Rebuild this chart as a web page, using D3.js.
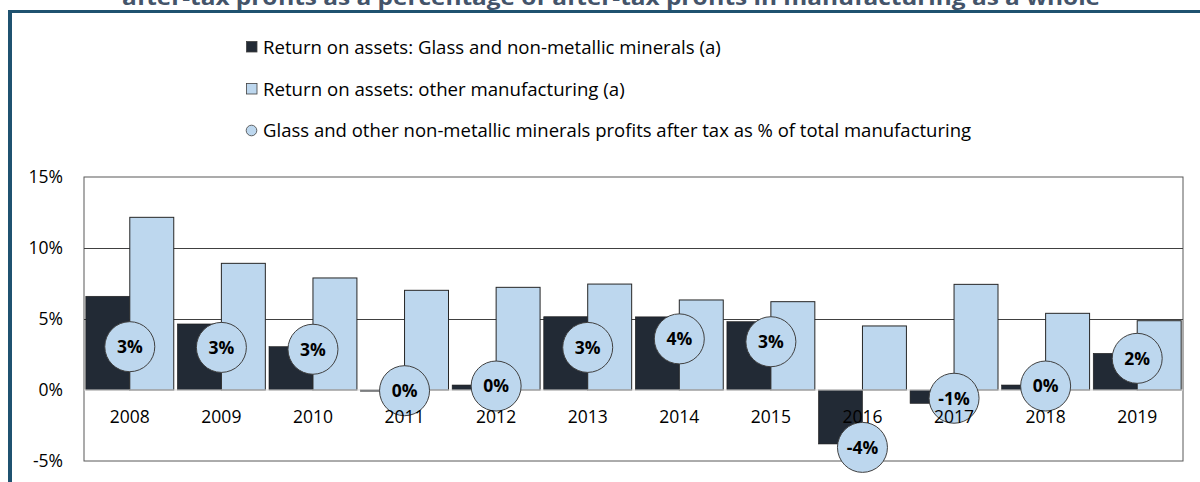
<!DOCTYPE html>
<html><head><meta charset="utf-8">
<script src="https://cdn.jsdelivr.net/npm/d3@7"></script>
<style>
html,body{margin:0;padding:0;background:#fff;}
text{font-family:"Open Sans",sans-serif;}
</style></head>
<body>
<svg id="chart" width="1200" height="482"></svg>
<script>
const years = ["2008","2009","2010","2011","2012","2013","2014","2015","2016","2017","2018","2019"];
const glassROA = [6.6, 4.65, 3.05, -0.08, 0.35, 5.16, 5.15, 4.81, -3.8, -0.94, 0.35, 2.58];
const otherROA = [12.16, 8.92, 7.89, 7.02, 7.23, 7.46, 6.34, 6.22, 4.51, 7.44, 5.40, 4.88];
const profitShare = [3.05, 3.0, 2.87, -0.05, 0.28, 3.0, 3.6, 3.4, -4.04, -0.58, 0.28, 2.23];
const yTicks = [15, 10, 5, 0, -5];
const seriesNames = [
  "Return on assets: Glass and non-metallic minerals (a)",
  "Return on assets: other manufacturing (a)",
  "Glass and other non-metallic minerals profits after tax as % of total manufacturing"
];
const titleText = "after-tax profits as a percentage of after-tax profits in manufacturing as a whole";

const darkC = "#222a35", lightC = "#bdd7ee";
const FONT = "'Open Sans',sans-serif";
const svg = d3.select("#chart");
const L = 84, R = 1183, T = 177, B = 461;

const x = d3.scaleBand().domain(years).range([L, R]).paddingInner(0.04).paddingOuter(0.02);
const y = d3.scaleLinear().domain([-5, 15]).range([B, T]);

// frame
svg.append("line").attr("x1", 8).attr("x2", 1200).attr("y1", 11.5).attr("y2", 11.5)
  .attr("stroke", "#1f5270").attr("stroke-width", 3);
svg.append("line").attr("x1", 10).attr("x2", 10).attr("y1", 10).attr("y2", 482)
  .attr("stroke", "#1f5270").attr("stroke-width", 4);

// title (cut off at top, as in the reference)
svg.append("text").attr("x", 611).attr("y", 5).attr("text-anchor", "middle")
  .attr("font-size", 22).attr("font-weight", "bold").attr("fill", "#44546a")
  .attr("textLength", 978).attr("lengthAdjust", "spacingAndGlyphs").text(titleText);

// legend
const legY = [47, 89, 131];
const lg = svg.append("g");
lg.append("rect").attr("x", 246.5).attr("y", legY[0] - 5.5).attr("width", 10.5).attr("height", 10.5)
  .attr("fill", darkC).attr("stroke", "#404040").attr("stroke-width", 0.8);
lg.append("rect").attr("x", 246.5).attr("y", legY[1] - 5.5).attr("width", 10.5).attr("height", 10.5)
  .attr("fill", lightC).attr("stroke", "#404040").attr("stroke-width", 0.8);
lg.append("circle").attr("cx", 251.5).attr("cy", legY[2] - 0.5).attr("r", 5.3)
  .attr("fill", lightC).attr("stroke", "#404040").attr("stroke-width", 0.8);
const legW = [458, 362, 709];
seriesNames.forEach((s, i) => {
  const t = lg.append("text").attr("x", 263).attr("y", legY[i]).attr("dy", "0.35em")
    .attr("font-size", 16).attr("fill", "#000").text(s);
  const w = t.node().getComputedTextLength();
  t.attr("font-size", 16 * legW[i] / w);
});

// plot area
svg.append("rect").attr("x", L).attr("y", T).attr("width", R - L).attr("height", B - T)
  .attr("fill", "#fff").attr("stroke", "#595959").attr("stroke-width", 1);

// gridlines
svg.append("g").selectAll("line").data([10, 5]).join("line")
  .attr("x1", L).attr("x2", R).attr("y1", d => Math.round(y(d)) + 0.5).attr("y2", d => Math.round(y(d)) + 0.5)
  .attr("stroke", "#404040").attr("stroke-width", 1);

// y axis labels
const yAxis = d3.axisLeft(y).tickValues(yTicks).tickSize(0).tickPadding(0).tickFormat(d => d + "%");
const ya = svg.append("g").attr("transform", `translate(${L - 21},0)`).call(yAxis);
ya.select(".domain").remove();
ya.selectAll("text").attr("font-size", 17.5).attr("fill", "#000").attr("font-family", FONT);

// bars
const bw = x.bandwidth() / 2;
svg.append("g").selectAll("rect").data(years).join("rect")
  .attr("x", d => x(d)).attr("width", bw)
  .attr("y", (d, i) => y(Math.max(0, glassROA[i])))
  .attr("height", (d, i) => Math.abs(y(glassROA[i]) - y(0)))
  .attr("fill", darkC).attr("stroke", "#1a1a1a").attr("stroke-width", 0.6);
svg.append("g").selectAll("rect").data(years).join("rect")
  .attr("x", d => x(d) + bw).attr("width", bw)
  .attr("y", (d, i) => y(Math.max(0, otherROA[i])))
  .attr("height", (d, i) => Math.abs(y(otherROA[i]) - y(0)))
  .attr("fill", lightC).attr("stroke", "#262626").attr("stroke-width", 1);

// zero line
svg.append("line").attr("x1", L).attr("x2", R).attr("y1", y(0)).attr("y2", y(0))
  .attr("stroke", "#d9d9d9").attr("stroke-width", 1);

// bubbles
const bub = svg.append("g");
bub.selectAll("circle").data(years).join("circle")
  .attr("cx", d => x(d) + bw).attr("cy", (d, i) => y(profitShare[i])).attr("r", 25)
  .attr("fill", lightC).attr("stroke", "#404040").attr("stroke-width", 1);
bub.selectAll("text").data(years).join("text")
  .attr("x", d => x(d) + bw).attr("y", (d, i) => y(profitShare[i])).attr("dy", "0.36em")
  .attr("text-anchor", "middle").attr("font-size", 17.5).attr("font-weight", "bold").attr("fill", "#000")
  .text((d, i) => d3.format(".0f")(profitShare[i]).replace("\u2212", "-") + "%");

// x labels
const xAxis = d3.axisBottom(x).tickSize(0).tickPadding(0);
const xa = svg.append("g").attr("transform", `translate(0,${y(0) + 21})`).call(xAxis);
xa.select(".domain").remove();
xa.selectAll("text").attr("font-size", 17.5).attr("fill", "#000").attr("font-family", FONT);
</script>
</body></html>
